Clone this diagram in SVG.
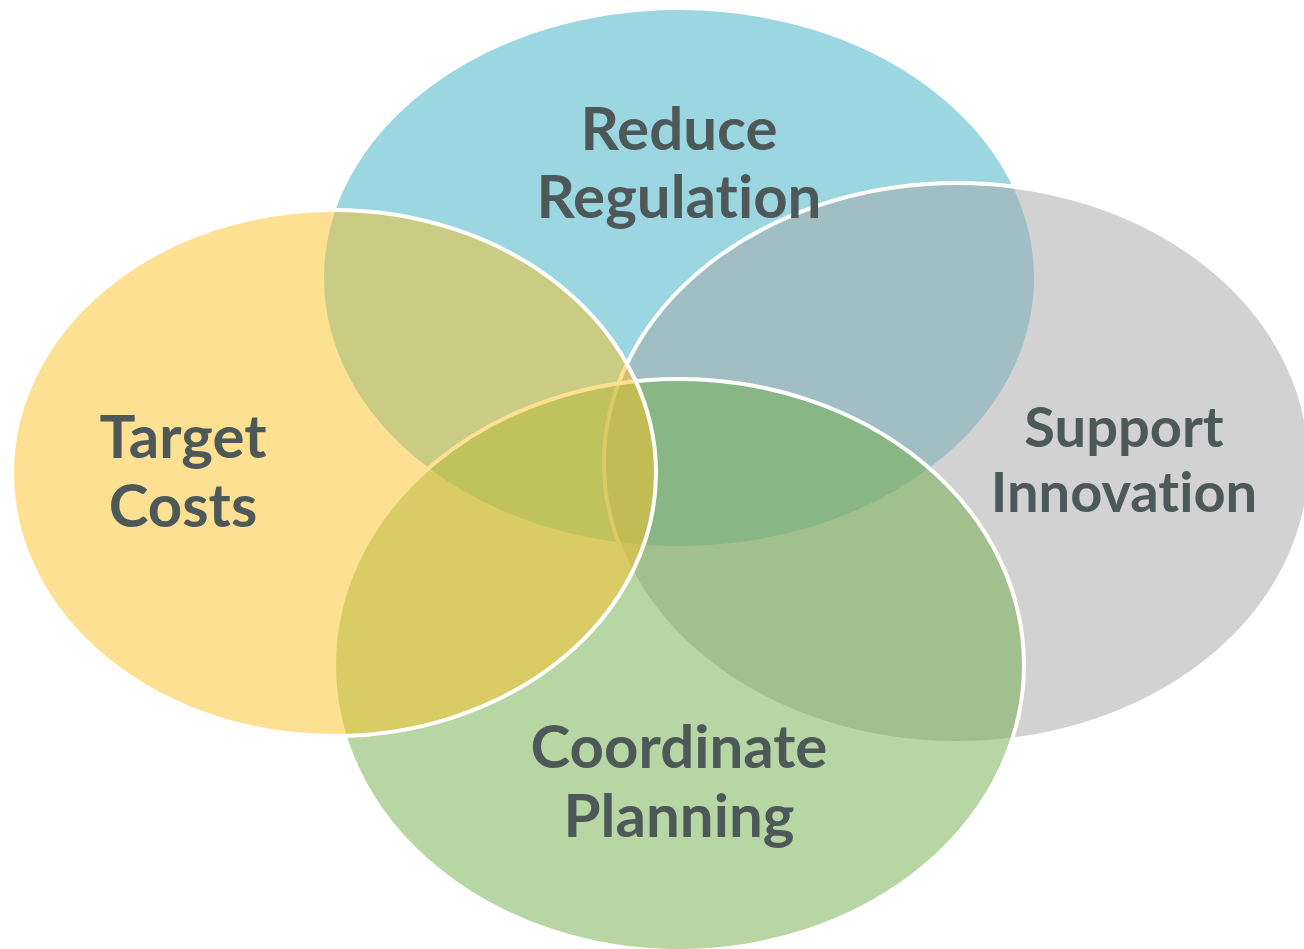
<svg xmlns="http://www.w3.org/2000/svg" width="1304" height="949" viewBox="0 0 1304 949">
  <style>
    .petal { stroke: #ffffff; stroke-width: 4; }
    .label { font-family: Lato, "Open Sans", "Liberation Sans", sans-serif; font-weight: 700; font-size: 60px; fill: #4d5858; text-anchor: middle; font-variant-ligatures: none; }
    .label.small { font-size: 56px; }
  </style>
  <rect width="1304" height="949" fill="#ffffff"/>
  <g id="reduce-regulation">
    <ellipse class="petal" cx="679" cy="278" rx="357" ry="270" fill="#9bd6e1"/>
  </g>
  <g id="support-innovation">
    <ellipse class="petal" cx="957" cy="463" rx="353" ry="280" fill="#a5a5a5" fill-opacity="0.5"/>
  </g>
  <g id="coordinate-planning">
    <ellipse class="petal" cx="679" cy="665" rx="345" ry="286" fill="#70ad47" fill-opacity="0.5"/>
  </g>
  <g id="target-costs">
    <ellipse class="petal" cx="334" cy="473" rx="322" ry="263" fill="#fbc125" fill-opacity="0.5"/>
  </g>
  <g id="labels">
    <text class="label" x="679" y="150">Reduce</text>
    <text class="label" x="679" y="218">Regulation</text>
    <text class="label" x="183" y="458">Target</text>
    <text class="label" x="183" y="527">Costs</text>
    <text class="label small" x="1124" y="447">Support</text>
    <text class="label small" x="1124" y="512">Innovation</text>
    <text class="label" x="679" y="768">Coordinate</text>
    <text class="label" x="679" y="837">Planning</text>
  </g>
  <g id="connectors"/>
</svg>
